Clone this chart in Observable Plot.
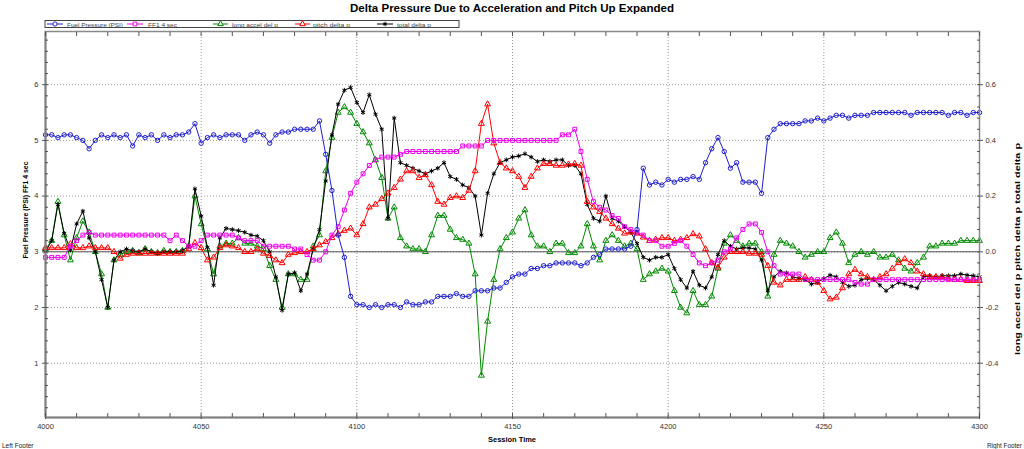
<!DOCTYPE html>
<html>
<head>
<meta charset="utf-8">
<script src="https://cdn.jsdelivr.net/npm/d3@7"></script>
<script src="https://cdn.jsdelivr.net/npm/@observablehq/plot@0.6"></script>
<style>
  html, body { margin: 0; padding: 0; background: #fff; overflow: hidden; }
  #chart { width: 1024px; height: 449px; }
  #chart svg { display: block; }
</style>
</head>
<body>
<div id="chart"></div>
<script>
// Session time, one sample every 2 s
const time = d3.range(4000, 4301, 2);

// Left axis series (PSI)
const fuelPressure = [
  5.1, 5.1, 5.05, 5.1, 5.1,
  5.05, 5.0, 4.85, 5.0, 5.1,
  5.05, 5.1, 5.05, 5.1, 4.9,
  5.1, 5.05, 5.1, 5.0, 5.1,
  5.05, 5.1, 5.1, 5.15, 5.3,
  4.95, 5.05, 5.1, 5.05, 5.1,
  5.1, 5.1, 5.0, 5.1, 5.15,
  5.1, 4.95, 5.1, 5.15, 5.15,
  5.2, 5.2, 5.2, 5.2, 5.35,
  4.75, 4.1, 3.3, 2.9, 2.2,
  2.05, 2.05, 2.0, 2.05, 2.0,
  2.05, 2.05, 2.0, 2.1, 2.05,
  2.05, 2.1, 2.1, 2.2, 2.2,
  2.2, 2.25, 2.2, 2.2, 2.3,
  2.3, 2.3, 2.35, 2.35, 2.45,
  2.55, 2.6, 2.6, 2.7, 2.7,
  2.75, 2.75, 2.8, 2.8, 2.8,
  2.8, 2.75, 2.8, 2.9, 2.95,
  3.05, 3.05, 3.05, 3.05, 3.1,
  3.4, 4.5, 4.2, 4.25, 4.2,
  4.3, 4.25, 4.3, 4.3, 4.35,
  4.3, 4.6, 4.85, 5.05, 4.8,
  4.5, 4.6, 4.25, 4.25, 4.25,
  4.05, 5.05, 5.2, 5.3, 5.3,
  5.3, 5.3, 5.35, 5.35, 5.4,
  5.35, 5.4, 5.45, 5.45, 5.4,
  5.45, 5.45, 5.45, 5.5, 5.5,
  5.5, 5.5, 5.5, 5.5, 5.45,
  5.5, 5.5, 5.5, 5.5, 5.5,
  5.45, 5.5, 5.5, 5.45, 5.5, 5.5
];
const ff14sec = [
  2.9, 2.9, 2.9, 2.9, 3.1,
  3.2, 3.3, 3.35, 3.3, 3.3,
  3.3, 3.3, 3.3, 3.3, 3.3,
  3.3, 3.3, 3.3, 3.3, 3.3,
  3.2, 3.3, 3.2, 3.1, 3.1,
  3.2, 3.3, 3.3, 3.3, 3.3,
  3.3, 3.25, 3.2, 3.2, 3.2,
  3.1, 3.1, 3.1, 3.1, 3.1,
  3.05, 3.05, 2.95, 2.85, 2.85,
  3.0, 3.3, 3.45, 3.75, 4.05,
  4.25, 4.4, 4.55, 4.65, 4.7,
  4.7, 4.7, 4.75, 4.8, 4.8,
  4.8, 4.8, 4.8, 4.8, 4.8,
  4.8, 4.8, 4.9, 4.9, 4.9,
  4.9, 5.0, 5.0, 5.0, 5.0,
  5.0, 5.0, 5.0, 5.0, 5.0,
  5.0, 5.0, 5.0, 5.1, 5.1,
  5.2, 4.8, 4.3, 3.9, 3.8,
  3.75, 3.65, 3.6, 3.45, 3.4,
  3.35, 3.3, 3.2, 3.2, 3.1,
  3.1, 3.15, 3.2, 3.1, 2.95,
  2.8, 2.75, 2.8, 2.85, 3.0,
  3.05, 3.25, 3.4, 3.5, 3.5,
  3.35, 3.0, 2.75, 2.6, 2.6,
  2.6, 2.6, 2.5, 2.5, 2.5,
  2.5, 2.5, 2.5, 2.5, 2.5,
  2.45, 2.42, 2.42, 2.5, 2.5,
  2.5, 2.5, 2.5, 2.5, 2.5,
  2.5, 2.5, 2.5, 2.5, 2.5,
  2.5, 2.5, 2.5, 2.5, 2.5, 2.5
];

// Right axis series (delta p)
const longAccelDelP = [
  0.01, 0.04, 0.18, 0.06, -0.03,
  0.05, 0.11, 0.07, 0.0, -0.08,
  -0.20, -0.03, -0.01, 0.0, 0.004,
  -0.004, 0.01, 0.0, -0.004, 0.004,
  0.0, 0.0, 0.004, 0.02, 0.20,
  0.10, 0.01, -0.08, 0.02, 0.03,
  0.03, 0.05, 0.03, 0.03, 0.02,
  0.01, -0.05, -0.10, -0.20, -0.08,
  -0.08, -0.10, -0.10, 0.02, 0.06,
  0.29, 0.41, 0.50, 0.52, 0.50,
  0.46, 0.43, 0.39, 0.33, 0.266,
  0.12, 0.16, 0.05, 0.02, 0.01,
  0.01, 0.0, 0.06, 0.13, 0.13,
  0.08, 0.05, 0.044, 0.03, -0.08,
  -0.444, -0.25, -0.10, 0.01, 0.05,
  0.07, 0.12, 0.15, 0.06, 0.02,
  0.02, 0.0, 0.03, 0.03, -0.004,
  -0.004, 0.02, 0.10, 0.02, -0.03,
  0.04, 0.06, 0.04, 0.02, 0.03,
  0.01, -0.10, -0.08, -0.07, -0.06,
  -0.07, -0.14, -0.20, -0.22, -0.14,
  -0.19, -0.19, -0.16, -0.06, 0.03,
  0.06, 0.04, 0.02, 0.03, 0.03,
  0.0, -0.16, -0.01, 0.04, 0.03,
  0.02, 0.0, -0.02, -0.01, 0.0,
  0.0, 0.05, 0.07, 0.03, -0.04,
  -0.01, 0.0, -0.01, 0.0, -0.02,
  -0.02, -0.01, -0.03, -0.06, -0.07,
  -0.04, -0.02, 0.02, 0.02, 0.03,
  0.03, 0.03, 0.04, 0.04, 0.04, 0.04
];
const pitchDeltaP = [
  0.014, 0.014, 0.014, 0.014, 0.028,
  0.014, 0.014, 0.02, 0.014, 0.014,
  0.014, 0.0, -0.024, -0.01, -0.006,
  -0.006, -0.006, -0.006, -0.006, -0.006,
  -0.006, -0.006, -0.006, 0.01, 0.032,
  0.014, -0.03, -0.02, 0.014, 0.024,
  0.02, 0.014, 0.0, 0.0, 0.01,
  -0.006, -0.014, -0.03, -0.04, -0.01,
  -0.004, 0.0, 0.0, 0.01, 0.024,
  0.036, 0.05, 0.064, 0.076, 0.084,
  0.06, 0.10, 0.16, 0.17, 0.19,
  0.21, 0.23, 0.26, 0.29, 0.29,
  0.266, 0.276, 0.24, 0.18, 0.17,
  0.194, 0.20, 0.194, 0.22, 0.29,
  0.46, 0.53, 0.39, 0.32, 0.30,
  0.29, 0.27, 0.23, 0.27, 0.30,
  0.316, 0.316, 0.31, 0.31, 0.314,
  0.316, 0.31, 0.18, 0.16, 0.144,
  0.12, 0.10, 0.084, 0.066, 0.07,
  0.066, 0.052, 0.04, 0.044, 0.05,
  0.05, 0.04, 0.044, 0.05, 0.064,
  0.056, 0.01, -0.04, -0.056, -0.02,
  0.0, 0.0, 0.0, -0.006, -0.006,
  -0.01, -0.05, -0.11, -0.12, -0.10,
  -0.10, -0.10, -0.09, -0.10, -0.11,
  -0.14, -0.17, -0.164, -0.13, -0.08,
  -0.064, -0.08, -0.09, -0.10, -0.09,
  -0.08, -0.06, -0.04, -0.026, -0.04,
  -0.07, -0.08, -0.09, -0.09, -0.09,
  -0.096, -0.10, -0.10, -0.104, -0.104, -0.104
];
const totalDeltaP = [
  0.0, 0.04, 0.17, 0.066, 0.006,
  0.10, 0.146, 0.05, 0.0, -0.10,
  -0.20, -0.03, 0.0, 0.01, 0.004,
  0.0, 0.01, 0.0, -0.006, 0.0,
  0.0, 0.0, 0.004, 0.02, 0.226,
  0.128, 0.016, -0.12, 0.05, 0.084,
  0.08, 0.076, 0.07, 0.06, 0.056,
  0.04, 0.0, -0.09, -0.21, -0.08,
  -0.076, -0.14, -0.08, 0.01, 0.08,
  0.254, 0.42, 0.53, 0.58, 0.59,
  0.536, 0.50, 0.564, 0.494, 0.44,
  0.12, 0.48, 0.32, 0.31, 0.30,
  0.29, 0.28, 0.29, 0.30, 0.32,
  0.27, 0.26, 0.24, 0.23, 0.20,
  0.06, 0.21, 0.28, 0.32, 0.33,
  0.34, 0.344, 0.352, 0.34, 0.324,
  0.33, 0.324, 0.33, 0.33, 0.31,
  0.31, 0.28, 0.17, 0.12, 0.11,
  0.20, 0.12, 0.11, 0.09, 0.07,
  0.03, -0.02, -0.03, -0.02, -0.02,
  -0.01, -0.06, -0.10, -0.13, -0.07,
  -0.12, -0.13, -0.09, -0.01, 0.04,
  0.02, 0.01, 0.014, 0.014, 0.01,
  -0.03, -0.14, -0.09, -0.07, -0.076,
  -0.09, -0.096, -0.10, -0.116, -0.11,
  -0.096, -0.084, -0.09, -0.11, -0.124,
  -0.12, -0.10, -0.096, -0.10, -0.12,
  -0.14, -0.124, -0.11, -0.116, -0.124,
  -0.13, -0.09, -0.086, -0.09, -0.086,
  -0.086, -0.086, -0.08, -0.084, -0.086, -0.09
];

// Axis ticks
const xTicks = [4000, 4050, 4100, 4150, 4200, 4250, 4300];
const xMinorTicks = d3.range(4000, 4301, 10);
const leftTicks = [1, 2, 3, 4, 5, 6];
const leftMinorTicks = d3.range(0.2, 6.95, 0.2);
const rightTicks = [-0.4, -0.2, 0.0, 0.2, 0.4, 0.6];

// The right axis shares the left axis pixels: 0.0 sits at 3 PSI, 0.2 per PSI unit
const toLeft = r => 3 + 5 * r;

const seriesDefs = [
  {name: "Fuel Pressure (PSI)", values: fuelPressure, y: v => v, color: "#1f1fd0", symbol: "circle"},
  {name: "FF1 4 sec", values: ff14sec, y: v => v, color: "#ee00ee", symbol: "square"},
  {name: "long accel del p", values: longAccelDelP, y: toLeft, color: "#008a00", symbol: "triangle"},
  {name: "pitch delta p", values: pitchDeltaP, y: toLeft, color: "#ff0000", symbol: "triangle"},
  {name: "total delta p", values: totalDeltaP, y: toLeft, color: "#000000", symbol: "asterisk"}
];
// drawing order (last on top)
const drawOrder = [2, 4, 3, 1, 0];

const idx = d3.range(time.length);
const seriesMarks = drawOrder.flatMap(s => {
  const d = seriesDefs[s];
  const yAcc = i => d.y(d.values[i]);
  return [
    Plot.line(idx, {x: i => time[i], y: yAcc, stroke: d.color, strokeWidth: 1}),
    Plot.dot(idx, {x: i => time[i], y: yAcc, stroke: d.color, fill: "none", symbol: d.symbol, r: 2.2, strokeWidth: 1})
  ];
});

const FONT = "'Liberation Sans', Arial, sans-serif";

const chart = Plot.plot({
  width: 1024,
  height: 449,
  marginTop: 31,
  marginBottom: 32,
  marginLeft: 45,
  marginRight: 45,
  style: {fontFamily: FONT, fontSize: "7.5px", color: "#333", background: "#fff", overflow: "visible"},
  x: {domain: [4000, 4300]},
  y: {domain: [0.025, 6.955]},
  marks: [
    Plot.gridX(xTicks.slice(1, -1), {stroke: "#999", strokeOpacity: 1, strokeDasharray: "1,2"}),
    Plot.gridY(leftTicks, {stroke: "#999", strokeOpacity: 1, strokeDasharray: "1,2"}),
    Plot.ruleY([toLeft(0)], {stroke: "#555", strokeWidth: 1}),
    ...seriesMarks,
    Plot.frame({stroke: "#8a8a8a", strokeWidth: 1.5}),
    Plot.ruleX([4000], {stroke: "#808080", strokeWidth: 2}),
    Plot.ruleY([0.025], {stroke: "#808080", strokeWidth: 2}),
    // bottom and top minor ticks, pointing into the plot
    Plot.axisX(xMinorTicks, {anchor: "bottom", tickSize: -4, tickFormat: () => "", label: null, stroke: "#555"}),
    Plot.axisX(xMinorTicks, {anchor: "top", tickSize: -4, tickFormat: () => "", label: null, stroke: "#555"}),
    Plot.axisX(xTicks, {anchor: "bottom", tickSize: 2, tickPadding: 4, tickFormat: d => String(d), label: null, fontSize: 7.5, fill: "#333", stroke: "#555"}),
    // left axis
    Plot.axisY(leftMinorTicks, {anchor: "left", tickSize: -3, tickFormat: () => "", label: null, stroke: "#555"}),
    Plot.axisY(leftTicks, {anchor: "left", tickSize: 3, tickPadding: 4, tickFormat: d => String(d), label: null, fontSize: 7.5, fill: "#333", stroke: "#555"}),
    // right axis in delta p units
    Plot.axisY(leftMinorTicks, {anchor: "right", tickSize: -3, tickFormat: () => "", label: null, stroke: "#555"}),
    Plot.axisY(rightTicks.map(toLeft), {anchor: "right", tickSize: 3, tickPadding: 3, tickFormat: v => ((v - 3) / 5).toFixed(1), label: null, fontSize: 7.5, fill: "#333", stroke: "#555"})
  ]
});

document.getElementById("chart").appendChild(chart);

// Titles, legend and footers
const svg = d3.select(chart);
function addText(txt, x, y, opts) {
  const o = Object.assign({size: 7.5, weight: "normal", anchor: "middle", rotate: 0, fill: "#000", length: null}, opts);
  const t = svg.append("text")
    .attr("transform", `translate(${x},${y}) rotate(${o.rotate})`)
    .attr("text-anchor", o.anchor)
    .attr("font-family", FONT)
    .attr("font-size", o.size)
    .attr("font-weight", o.weight)
    .attr("fill", o.fill)
    .text(txt);
  if (o.length) t.attr("textLength", o.length).attr("lengthAdjust", "spacingAndGlyphs");
  return t;
}

addText("Delta Pressure Due to Acceleration and Pitch Up Expanded", 512, 11.5, {size: 11, weight: "bold", length: 324});
addText("Session Time", 512, 442, {size: 7.5, weight: "bold", length: 48});
addText("Fuel Pressure (PSI) FF1 4 sec", 28, 210, {size: 7.5, weight: "bold", rotate: -90, length: 97});
addText("long accel del p pitch delta p total delta p", 1019.5, 249, {size: 7.5, weight: "bold", rotate: -90, length: 212});
addText("Left Footer", 2, 447.5, {size: 6.5, anchor: "start", fill: "#222", length: 31.5});
addText("Right Footer", 987, 447.5, {size: 6.5, anchor: "start", fill: "#222", length: 35});

// Legend
const legend = svg.append("g");
legend.append("rect").attr("x", 45).attr("y", 20.5).attr("width", 414).attr("height", 7)
  .attr("fill", "#fff").attr("stroke", "#444").attr("stroke-width", 1);
const legendPos = [
  {x0: 47, x1: 63, tx: 67, len: 56},
  {x0: 127, x1: 143, tx: 148, len: 29},
  {x0: 213, x1: 228, tx: 232, len: 46},
  {x0: 295, x1: 310, tx: 313, len: 37},
  {x0: 377, x1: 393, tx: 397, len: 34}
];
const symbolTypes = {circle: d3.symbolCircle, square: d3.symbolSquare, triangle: d3.symbolTriangle, asterisk: d3.symbolAsterisk};
seriesDefs.forEach((d, i) => {
  const p = legendPos[i];
  const cy = 24;
  legend.append("line").attr("x1", p.x0).attr("x2", p.x1).attr("y1", cy).attr("y2", cy)
    .attr("stroke", d.color).attr("stroke-width", 1);
  legend.append("path").attr("d", d3.symbol(symbolTypes[d.symbol], 14)())
    .attr("transform", `translate(${(p.x0 + p.x1) / 2},${cy})`)
    .attr("fill", "#fff").attr("stroke", d.color).attr("stroke-width", 1);
  addText(d.name, p.tx, 26.6, {size: 6, anchor: "start", fill: "#444", length: p.len});
});
</script>
</body>
</html>
